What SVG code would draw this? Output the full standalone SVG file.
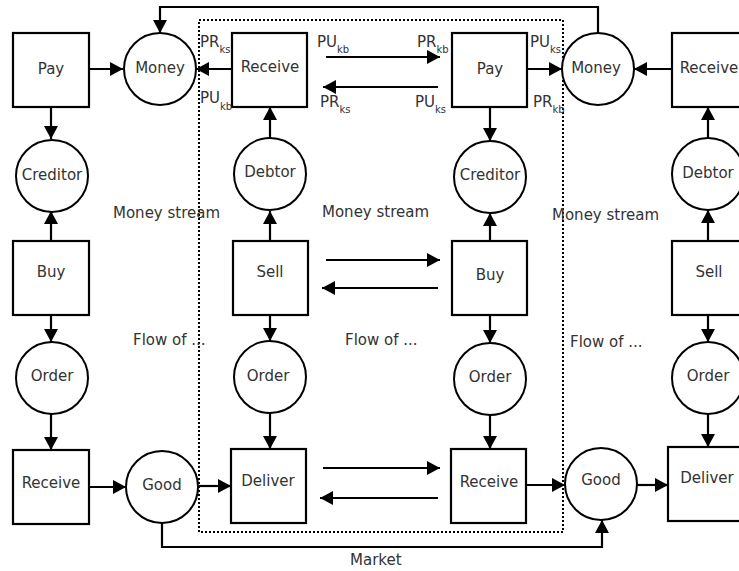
<svg xmlns="http://www.w3.org/2000/svg" width="739" height="571" viewBox="0 0 739 571">
<defs>
<marker id="a" viewBox="0 0 13 14" refX="13" refY="7" markerWidth="13" markerHeight="14" orient="auto" markerUnits="userSpaceOnUse"><path d="M0,0 L13,7 L0,14 z" fill="#000"/></marker>
<style>
.box{fill:#fff;stroke:#000;stroke-width:2.2}
.circ{fill:#fff;stroke:#000;stroke-width:2}
.t{font-family:"DejaVu Sans",sans-serif;font-size:15px;fill:#333;text-anchor:middle;dominant-baseline:central}
.l{font-family:"DejaVu Sans",sans-serif;font-size:15px;fill:#333}
.s{font-size:10px}
.c{fill:none;stroke:#000;stroke-width:2.2;marker-end:url(#a)}
</style>
</defs>
<rect width="739" height="571" fill="#fff"/>
<rect x="199" y="20" width="364" height="512" fill="none" stroke="#000" stroke-width="2" stroke-dasharray="2 2"/>

<g id="connectors">
<path class="c" d="M598,33 V7 H160 V33"/>
<path class="c" d="M89,69 H123"/>
<path class="c" d="M232,69 H196"/>
<path class="c" d="M527,69 H562"/>
<path class="c" d="M672,69 H634"/>
<path class="c" d="M326,57 H440"/>
<path class="c" d="M438,87 H323"/>
<path class="c" d="M326,260 H440"/>
<path class="c" d="M438,288 H322"/>
<path class="c" d="M323,468 H440"/>
<path class="c" d="M438,498 H320"/>
<path class="c" d="M51,107 V139"/>
<path class="c" d="M51,241 V211"/>
<path class="c" d="M51,315 V342"/>
<path class="c" d="M51,414 V450"/>
<path class="c" d="M270,139 V107"/>
<path class="c" d="M270,241 V211"/>
<path class="c" d="M270,315 V341"/>
<path class="c" d="M270,413 V449"/>
<path class="c" d="M490,107 V141"/>
<path class="c" d="M490,241 V213"/>
<path class="c" d="M490,315 V343"/>
<path class="c" d="M490,415 V449"/>
<path class="c" d="M708,139 V107"/>
<path class="c" d="M708,241 V210"/>
<path class="c" d="M708,315 V342"/>
<path class="c" d="M708,414 V447"/>
<path class="c" d="M88,487 H126"/>
<path class="c" d="M199,486 H231"/>
<path class="c" d="M526,485 H565"/>
<path class="c" d="M637,485 H668"/>
<path class="c" d="M162,522 V547 H602 V520"/>
</g>

<g id="pay-l"><rect class="box" x="13" y="33" width="76" height="74"/><text class="t" x="51" y="69">Pay</text></g>
<g id="money-l"><circle class="circ" cx="160" cy="69" r="36"/><text class="t" x="160" y="68">Money</text></g>
<g id="creditor-l"><circle class="circ" cx="52" cy="176" r="36"/><text class="t" x="52" y="175">Creditor</text></g>
<g id="buy-l"><rect class="box" x="13" y="241" width="76" height="74"/><text class="t" x="51" y="272">Buy</text></g>
<g id="order-l"><circle class="circ" cx="52" cy="378" r="36"/><text class="t" x="52" y="376">Order</text></g>
<g id="receive-l"><rect class="box" x="13" y="450" width="76" height="74"/><text class="t" x="51" y="483">Receive</text></g>
<g id="good-l"><circle class="circ" cx="162" cy="487" r="36"/><text class="t" x="162" y="485">Good</text></g>

<g id="receive-m"><rect class="box" x="232" y="33" width="75" height="74"/><text class="t" x="270" y="67">Receive</text></g>
<g id="debtor-m"><circle class="circ" cx="270" cy="174" r="36"/><text class="t" x="270" y="172">Debtor</text></g>
<g id="sell-m"><rect class="box" x="233" y="241" width="75" height="74"/><text class="t" x="270" y="272">Sell</text></g>
<g id="order-m"><circle class="circ" cx="270" cy="377" r="36"/><text class="t" x="268" y="376">Order</text></g>
<g id="deliver-m"><rect class="box" x="231" y="449" width="75" height="74"/><text class="t" x="268" y="481">Deliver</text></g>

<g id="pay-c"><rect class="box" x="452" y="33" width="75" height="74"/><text class="t" x="490" y="69">Pay</text></g>
<g id="creditor-c"><circle class="circ" cx="490" cy="177" r="36"/><text class="t" x="490" y="175">Creditor</text></g>
<g id="buy-c"><rect class="box" x="452" y="241" width="75" height="74"/><text class="t" x="490" y="275">Buy</text></g>
<g id="order-c"><circle class="circ" cx="490" cy="379" r="36"/><text class="t" x="490" y="377">Order</text></g>
<g id="receive-c"><rect class="box" x="451" y="449" width="75" height="74"/><text class="t" x="489" y="482">Receive</text></g>

<g id="money-r"><circle class="circ" cx="598" cy="69" r="36"/><text class="t" x="596" y="68">Money</text></g>
<g id="good-r"><circle class="circ" cx="601" cy="484" r="36"/><text class="t" x="601" y="480">Good</text></g>
<g id="receive-r"><rect class="box" x="672" y="33" width="75" height="74"/><text class="t" x="709" y="68">Receive</text></g>
<g id="debtor-r"><circle class="circ" cx="708" cy="174" r="36"/><text class="t" x="708" y="173">Debtor</text></g>
<g id="sell-r"><rect class="box" x="672" y="241" width="75" height="74"/><text class="t" x="709" y="272">Sell</text></g>
<g id="order-r"><circle class="circ" cx="708" cy="378" r="36"/><text class="t" x="708" y="376">Order</text></g>
<g id="deliver-r"><rect class="box" x="668" y="447" width="75" height="74"/><text class="t" x="707" y="478">Deliver</text></g>

<g id="labels">
<text class="l" x="200" y="47">PR<tspan class="s" dy="6">ks</tspan></text>
<text class="l" x="200" y="103">PU<tspan class="s" dy="7">kb</tspan></text>
<text class="l" x="317" y="47">PU<tspan class="s" dy="6">kb</tspan></text>
<text class="l" x="320" y="107">PR<tspan class="s" dy="6">ks</tspan></text>
<text class="l" x="417" y="47">PR<tspan class="s" dy="6">kb</tspan></text>
<text class="l" x="415" y="107">PU<tspan class="s" dy="6">ks</tspan></text>
<text class="l" x="530" y="47">PU<tspan class="s" dy="6">ks</tspan></text>
<text class="l" x="533" y="107">PR<tspan class="s" dy="6">kb</tspan></text>
<text class="l" x="113" y="218">Money stream</text>
<text class="l" x="322" y="217">Money stream</text>
<text class="l" x="552" y="220">Money stream</text>
<text class="l" x="133" y="345">Flow of ...</text>
<text class="l" x="345" y="345">Flow of ...</text>
<text class="l" x="570" y="347">Flow of ...</text>
<text class="l" x="350" y="565">Market</text>
</g>
</svg>
